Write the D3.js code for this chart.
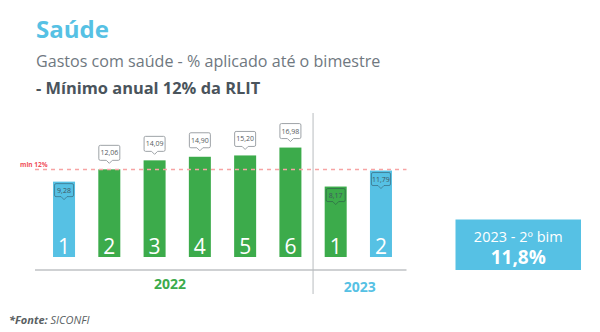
<!DOCTYPE html>
<html>
<head>
<meta charset="utf-8">
<script src="https://cdn.jsdelivr.net/npm/d3@7"></script>
<style>
  html, body { margin: 0; padding: 0; background: #ffffff; }
  svg { display: block; font-family: "Open Sans", "Noto Sans", sans-serif; }
</style>
</head>
<body>
<svg id="chart" width="600" height="332"></svg>
<script>
// Bimesters and the share of revenue applied to health (%)
const bimesters = ["1", "2", "3", "4", "5", "6", "1", "2"];
const years = ["2022", "2022", "2022", "2022", "2022", "2022", "2023", "2023"];
const values = [9.28, 12.06, 14.09, 14.90, 15.20, 16.98, 8.17, 11.79];
const yearLabels = ["2022", "2023"];
const minimum = 12;
const minimumLabel = "min 12%";
const summaryTitle = "2023 - 2º bim";
const summaryValue = 11.8;

const BLUE = "#56c1e4";
const GREEN = "#3cab4b";
const fmt = v => v.toFixed(2).replace(".", ",");

const svg = d3.select("#chart");

// Header
svg.append("text").attr("x", 36).attr("y", 38)
  .attr("font-size", 24).attr("font-weight", 700).attr("fill", BLUE)
  .text("Saúde");
svg.append("text").attr("x", 36).attr("y", 66.5)
  .attr("font-size", 16.1).attr("fill", "#6f787f")
  .text("Gastos com saúde - % aplicado até o bimestre");
svg.append("text").attr("x", 36).attr("y", 94)
  .attr("font-size", 16.4).attr("font-weight", 700).attr("fill", "#4a545c")
  .text("- Mínimo anual 12% da RLIT");

// Scales
const idx = d3.range(values.length);
const x = d3.scaleBand().domain(idx).range([41.4, 403.6])
  .paddingInner(0.514).paddingOuter(0.257);
const y = d3.scaleLinear().domain([-7.75, 20]).range([257, 134.2]);
const baseY = y(-7.75);

const axisLeft = 35, axisRight = 406.5, axisY = 270;

// Baseline under the bars
svg.append("line")
  .attr("x1", axisLeft).attr("x2", axisRight)
  .attr("y1", axisY).attr("y2", axisY)
  .attr("stroke", "#cfd1d3").attr("stroke-width", 2);

// Separator between years
const sepX = (x(5) + x.bandwidth() + x(6)) / 2;
svg.append("line")
  .attr("x1", sepX).attr("x2", sepX).attr("y1", 113).attr("y2", 294)
  .attr("stroke", "#b9bcbf").attr("stroke-width", 1);

// Bars
const isHighlight = i => i === 0 || i === values.length - 1;
const g = svg.append("g");
g.selectAll("rect.bar").data(idx).join("rect")
  .attr("class", "bar")
  .attr("x", i => x(i)).attr("width", x.bandwidth())
  .attr("y", i => y(values[i])).attr("height", i => baseY - y(values[i]))
  .attr("fill", i => isHighlight(i) ? BLUE : GREEN);

// Bimester numbers inside bars
g.selectAll("text.num").data(idx).join("text")
  .attr("class", "num")
  .attr("x", i => x(i) + x.bandwidth() / 2).attr("y", 254)
  .attr("text-anchor", "middle").attr("font-size", 21)
  .attr("fill", "#ffffff")
  .text(i => bimesters[i]);

// Minimum reference line
svg.append("line")
  .attr("x1", axisLeft).attr("x2", axisRight)
  .attr("y1", y(minimum)).attr("y2", y(minimum))
  .attr("stroke", "#f7a4a4").attr("stroke-width", 1.5)
  .attr("stroke-dasharray", "4,4");
svg.append("text").attr("x", 20).attr("y", y(minimum) - 3)
  .attr("font-size", 6.5).attr("font-weight", 700).attr("fill", "#ef4f5a")
  .text(minimumLabel);

// Value callouts: above the bar when it meets the minimum, inside otherwise
function calloutPath(cx, top, w, h, tip) {
  const l = cx - w / 2, r = cx + w / 2, b = top + h, rr = 1.5;
  return `M${l + rr},${top} H${r - rr} Q${r},${top} ${r},${top + rr} V${b - rr} Q${r},${b} ${r - rr},${b}` +
    ` H${cx + 3} L${cx},${b + tip} L${cx - 3},${b} H${l + rr} Q${l},${b} ${l},${b - rr} V${top + rr} Q${l},${top} ${l + rr},${top} Z`;
}
idx.forEach(i => {
  const v = values[i];
  const cx = x(i) + x.bandwidth() / 2;
  const barTop = y(v);
  const above = v >= minimum;
  const w = above ? 21 : 19, h = above ? 15 : 13;
  const top = above ? barTop - 9 - h : barTop + 2;
  svg.append("path")
    .attr("d", calloutPath(cx, top, w, h, 3))
    .attr("fill", above ? "#ffffff" : "none")
    .attr("stroke", above ? "#9ea3a7" : "rgba(40,60,70,0.45)")
    .attr("stroke-width", 1);
  svg.append("text")
    .attr("x", cx).attr("y", top + h / 2 + 2.5)
    .attr("text-anchor", "middle").attr("font-size", 7)
    .attr("fill", above ? "#555b60" : "#3f5560")
    .text(fmt(v));
});

// Year labels
const yearX = { "2022": 170, "2023": (sepX + axisRight) / 2 };
yearLabels.forEach((yr, k) => {
  svg.append("text")
    .attr("x", yearX[yr]).attr("y", k === 0 ? 289 : 291.5)
    .attr("text-anchor", "middle").attr("font-size", 14).attr("font-weight", 700)
    .attr("fill", k === 0 ? GREEN : BLUE)
    .text(yr);
});

// Summary box
const box = svg.append("g").attr("transform", "translate(455.5,219.5)");
box.append("rect").attr("width", 125.5).attr("height", 50.5).attr("fill", BLUE);
box.append("text").attr("x", 62.75).attr("y", 22)
  .attr("text-anchor", "middle").attr("font-size", 14.5).attr("fill", "#ffffff")
  .text(summaryTitle);
box.append("text").attr("x", 62.75).attr("y", 44)
  .attr("text-anchor", "middle").attr("font-size", 19).attr("font-weight", 700).attr("fill", "#ffffff")
  .text(summaryValue.toFixed(1).replace(".", ",") + "%");

// Source note
const src = svg.append("text").attr("x", 9).attr("y", 324)
  .attr("font-size", 11).attr("font-style", "italic").attr("fill", "#5a5f63");
src.append("tspan").attr("font-weight", 700).text("*Fonte:");
src.append("tspan").text(" SICONFI");
</script>
</body>
</html>
